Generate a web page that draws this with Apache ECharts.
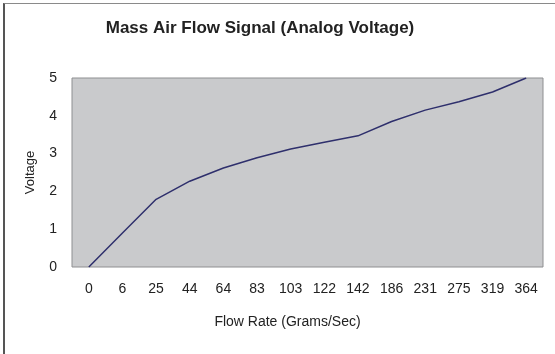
<!DOCTYPE html>
<html>
<head>
<meta charset="utf-8">
<script src="https://cdn.jsdelivr.net/npm/echarts@6/dist/echarts.min.js"></script>
<style>
  html, body { margin: 0; padding: 0; background: #fff; }
  #frame { position: absolute; left: 3px; top: 3px; width: 560px; height: 360px;
           border-top: 1px solid #8a8a8a; border-left: 2px solid #555; }
  #chart { position: absolute; left: 0; top: 0; width: 555px; height: 354px; }
</style>
</head>
<body>
<div id="frame"></div>
<div id="chart"></div>
<script>
// Mass air flow sensor output: voltage against flow rate
const flowRates = ['0', '6', '25', '44', '64', '83', '103', '122', '142', '186', '231', '275', '319', '364'];
const voltages = [0, 0.9, 1.79, 2.27, 2.62, 2.89, 3.12, 3.3, 3.47, 3.85, 4.15, 4.37, 4.63, 5.0];
const voltageTicks = [0, 1, 2, 3, 4, 5];

const chart = echarts.init(document.getElementById('chart'), null, { renderer: 'canvas' });
const font = 'Liberation Sans, Arial, sans-serif';

chart.setOption({
  animation: false,
  title: {
    text: 'Mass Air Flow Signal (Analog Voltage)',
    left: 255,
    top: 15,
    textAlign: 'center',
    textStyle: { fontFamily: font, fontSize: 17, fontWeight: 'bold', color: '#222' }
  },
  grid: {
    left: 72, top: 78, width: 471, height: 189,
    show: true, backgroundColor: '#c9cacc', borderColor: '#8e8f91', borderWidth: 1
  },
  xAxis: {
    type: 'category',
    data: flowRates,
    boundaryGap: true,
    axisLine: { show: false },
    axisTick: { show: false },
    axisLabel: { interval: 0, margin: 15, fontFamily: font, fontSize: 14, color: '#222' },
    name: 'Flow Rate (Grams/Sec)',
    nameLocation: 'middle',
    nameGap: 48,
    nameTextStyle: { fontFamily: font, fontSize: 14, color: '#222', padding: [0, 40, 0, 0] }
  },
  yAxis: {
    type: 'value',
    min: voltageTicks[0],
    max: voltageTicks[voltageTicks.length - 1],
    interval: 1,
    axisLine: { show: false },
    axisTick: { show: false },
    splitLine: { show: false },
    axisLabel: { margin: 15, fontFamily: font, fontSize: 14, color: '#222' },
    name: 'Voltage',
    nameLocation: 'middle',
    nameGap: 35,
    nameTextStyle: { fontFamily: font, fontSize: 13, color: '#222' }
  },
  series: [{
    type: 'line',
    data: voltages,
    showSymbol: false,
    lineStyle: { color: '#2e2f6c', width: 1.5 }
  }]
});
</script>
</body>
</html>
